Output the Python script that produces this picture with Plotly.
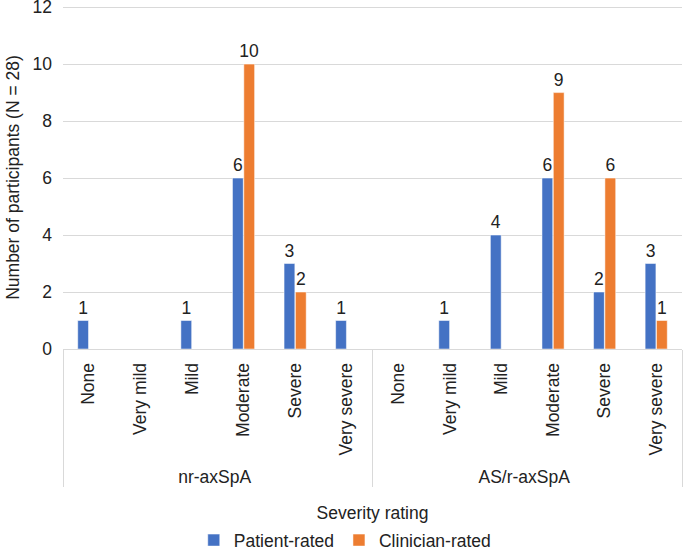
import plotly.graph_objects as go

groups = ["nr-axSpA"] * 6 + ["AS/r-axSpA"] * 6
severity = ["None", "Very mild", "Mild", "Moderate", "Severe", "Very severe"] * 2
patient_rated = [1, None, 1, 6, 3, 1, None, 1, 4, 6, 2, 3]
clinician_rated = [None, None, None, 10, 2, None, None, None, None, 9, 6, 1]

FS = 17.5
font = "Liberation Sans, Arial, sans-serif"
fig = go.Figure()
for name, vals, col in [("Patient-rated", patient_rated, "#4472C4"),
                        ("Clinician-rated", clinician_rated, "#ED7D31")]:
    fig.add_trace(go.Bar(x=[groups, severity], y=vals, name=name,
                         marker_color=col, text=vals, textposition="outside",
                         constraintext="none",
                         textfont=dict(size=FS, color="#222"), cliponaxis=False))

fig.update_layout(
    width=685, height=548, template="plotly_white",
    font=dict(family=font, size=FS, color="#222"),
    margin=dict(l=63, r=3, t=6, b=199, autoexpand=False),
    barmode="group", bargap=0.56, bargroupgap=0.05,
    plot_bgcolor="white", paper_bgcolor="white",
    legend=dict(orientation="h", x=0.456, xanchor="center", y=-0.505, yanchor="top",
                font=dict(size=FS), itemwidth=30, traceorder="normal"),
    showlegend=True,
)
fig.update_yaxes(range=[0, 12.04], tickvals=[0, 2, 4, 6, 8, 10, 12],
                 gridcolor="#d9d9d9", gridwidth=1, automargin=False,
                 ticklabeloverflow="allow", ticklabelstandoff=10,
                 zeroline=False, showline=False, ticks="", ticklen=0,
                 title=dict(text="Number of participants (N = 28)", font=dict(size=FS), standoff=8))
fig.update_xaxes(type="multicategory", showline=True, linecolor="#d9d9d9", linewidth=1,
                 tickangle=-90, showdividers=True, dividercolor="#d9d9d9", dividerwidth=1,
                 showgrid=False, automargin=False, ticklabelstandoff=6,
                 title=dict(text="Severity rating", font=dict(size=FS), standoff=20))
fig.write_html("out.html", config={"displayModeBar": False},
               post_script="document.body.style.margin='0';")
